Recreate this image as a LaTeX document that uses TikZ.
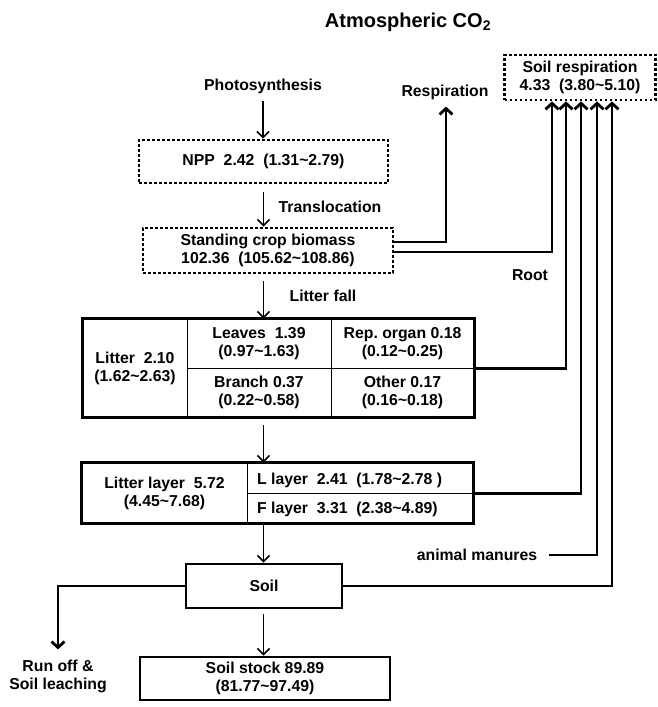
\documentclass[tikz,border=0pt]{standalone}
\usepackage{fontspec}
\setmainfont{Liberation Sans}
\usetikzlibrary{arrows.meta}
\newcommand\sq{\textasciitilde}
\begin{document}
\begin{tikzpicture}[x=1pt,y=-1pt,
  txt/.style={font=\fontsize{15.8}{18}\selectfont\bfseries, align=center, inner sep=0pt},
  dotbox/.style={txt, draw, line width=2.8pt, dash pattern=on 2.8pt off 2.2pt},
  solbox/.style={txt, draw, line width=2.8pt},
  cell/.style={txt, draw, line width=0.9pt},
  flow/.style={line width=1.6pt, -{Straight Barb[length=6pt,width=12pt]}},
  bigflow/.style={line width=2.8pt, -{Straight Barb[length=6pt,width=13pt]}},
  link/.style={line width=2.8pt}
]
\useasboundingbox (0,0) rectangle (658,707);

% title and labels
\node[txt, font=\fontsize{20}{24}\selectfont\bfseries] (title) at (408,22) {Atmospheric CO\textsubscript{2}};
\node[txt] (photo) at (263,86) {Photosynthesis};
\node[txt] (resp) at (445,92) {Respiration};
\node[txt] (transl) at (330,207) {Translocation};
\node[txt] (lfall) at (323,296) {Litter fall};
\node[txt] (root) at (530,275) {Root};
\node[txt] (manure) at (477,555) {animal manures};
\node[txt] (runoff) at (58,676) {Run off \&\\Soil leaching};

% dotted boxes
\node[dotbox, minimum width=151pt, minimum height=45pt] (soilresp) at (580,77.5) {Soil respiration\\4.33\ \ (3.80\sq5.10)};
\node[dotbox, minimum width=249pt, minimum height=43pt] (npp) at (263.5,161.5) {NPP\ \ 2.42\ \ (1.31\sq2.79)};
\node[dotbox, minimum width=250pt, minimum height=45pt] (stand) at (268,250.5) {Standing crop biomass\\102.36\ \ (105.62\sq108.86)};

% litter table
\node[cell, minimum width=104pt, minimum height=98pt] (lit) at (135,368) {Litter\ \ 2.10\\(1.62\sq2.63)};
\node[cell, minimum width=144pt, minimum height=49pt] (leaves) at (259,343.5) {Leaves\ \ 1.39\\(0.97\sq1.63)};
\node[cell, minimum width=143pt, minimum height=49pt] (rep) at (402.5,343.5) {Rep.\ organ 0.18\\(0.12\sq0.25)};
\node[cell, minimum width=144pt, minimum height=49pt] (branch) at (259,392.5) {Branch 0.37\\(0.22\sq0.58)};
\node[cell, minimum width=143pt, minimum height=49pt] (other) at (402.5,392.5) {Other 0.17\\(0.16\sq0.18)};
\draw[line width=2.8pt] (lit.north west) rectangle (other.south east);

% litter layer
\node[cell, minimum width=165pt, minimum height=60pt] (llayer) at (164.5,493) {Litter layer\ \ 5.72\\(4.45\sq7.68)};
\node[cell, minimum width=226pt, minimum height=30pt] (L) at (360,478) {};
\node[cell, minimum width=226pt, minimum height=30pt] (F) at (360,508) {};
\node[txt, anchor=west] (Lt) at (257,480) {L layer\ \ 2.41\ \ (1.78\sq2.78\ )};
\node[txt, anchor=west] (Ft) at (257,509) {F layer\ \ 3.31\ \ (2.38\sq4.89)};
\draw[line width=2.8pt] (llayer.north west) rectangle (F.south east);

% soil
\node[solbox, minimum width=156pt, minimum height=44pt] (soil) at (264,586) {Soil};
\node[solbox, minimum width=250pt, minimum height=43pt] (stock) at (265,678.5) {Soil stock 89.89\\(81.77\sq97.49)};

% central flow
\draw[flow, shorten <=7pt] (photo.south) -- (photo.south |- npp.north);
\draw[flow, shorten <=8pt] (npp.south) -- (npp.south |- stand.north);
\draw[flow, shorten <=7pt] (npp.south |- stand.south) -- (npp.south |- lit.north);
\draw[flow, shorten <=8pt] (npp.south |- lit.south) -- (npp.south |- llayer.north);
\draw[flow] (npp.south |- llayer.south) -- (npp.south |- soil.north);
\draw[flow, shorten <=5pt] (npp.south |- soil.south) -- (npp.south |- stock.north);

% respiration and root
\draw[bigflow, shorten >=7pt] ([yshift=8.5pt]stand.east) -| ([xshift=1pt]resp.south);
\draw[bigflow] ([yshift=-1.5pt]stand.east) -| ([xshift=-28pt]soilresp.south);
\draw[bigflow] (rep.south east) -| ([xshift=-14pt]soilresp.south);
\draw[bigflow] (L.south east) -| ([xshift=1pt]soilresp.south);
\draw[bigflow, shorten <=12pt] (manure.east) -| ([xshift=17pt]soilresp.south);
\draw[bigflow] (soil.east) -| ([xshift=32pt]soilresp.south);

% run off
\draw[bigflow, shorten >=10pt] (soil.west) -| (runoff.north);
\end{tikzpicture}
\end{document}
